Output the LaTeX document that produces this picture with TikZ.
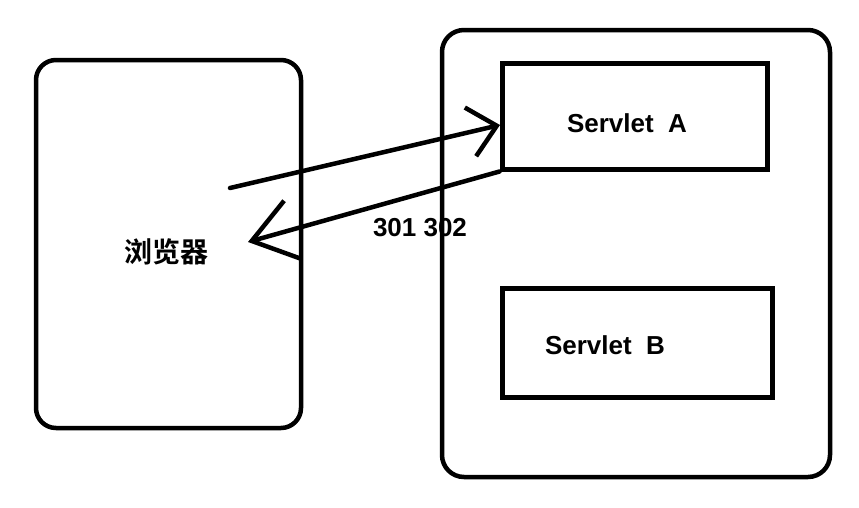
\documentclass[tikz,border=0pt]{standalone}
\usepackage{fontspec}
\setmainfont{Liberation Sans}
\newfontfamily\cjk{Noto Sans CJK SC}[BoldFont={* Bold}]
\usetikzlibrary{arrows.meta}
\tikzset{
  panel/.style={draw, line width=4.5pt, rounded corners=20pt, inner sep=0pt},
  servletbox/.style={draw, line width=5pt, inner sep=0pt},
  lbl/.style={font=\fontsize{26pt}{30pt}\selectfont\bfseries},
  call/.style={line width=4.5pt, line cap=round, line join=round}
}
\begin{document}
\begin{tikzpicture}[x=1pt, y=-1pt]
    \useasboundingbox[fill=white] (0,0) rectangle (859,507);
    % Draw outer boxes
    \node[panel, minimum width=265pt, minimum height=368pt] (browser) at (168.5,244) {};
    \node[lbl, font=\fontsize{28pt}{32pt}\selectfont\cjk\bfseries] (browserlbl) at (166,252) {浏览器};
    \node[panel, rounded corners=22pt, minimum width=388pt, minimum height=447pt] (server) at (636,253.5) {};
    
    % Draw servlets
    \node[servletbox, minimum width=265pt, minimum height=106pt] (servletA) at (634.5,116) {};
    \node[lbl] (servletAlbl) at (627,123) {Servlet\ \ A};
    \node[servletbox, minimum width=270pt, minimum height=109pt] (servletB) at (637,342.5) {};
    \node[lbl] (servletBlbl) at (605,345) {Servlet\ \ B};
    
    % Draw request and redirect
    \coordinate (reqstart) at (230,188);
    \coordinate (reqend) at (500,125);
    \coordinate (redirend) at (248,242);
    \draw[call, -{Straight Barb[length=27pt, width=50pt, line width=4.5pt]}] (reqstart) -- (reqend);
    \draw[call, -{Straight Barb[length=42pt, width=60pt, line width=4.5pt]}] (servletA.south west) -- (redirend);
    \node[lbl] (codes) at (420,228) {301 302};
  \end{tikzpicture}
\end{document}
